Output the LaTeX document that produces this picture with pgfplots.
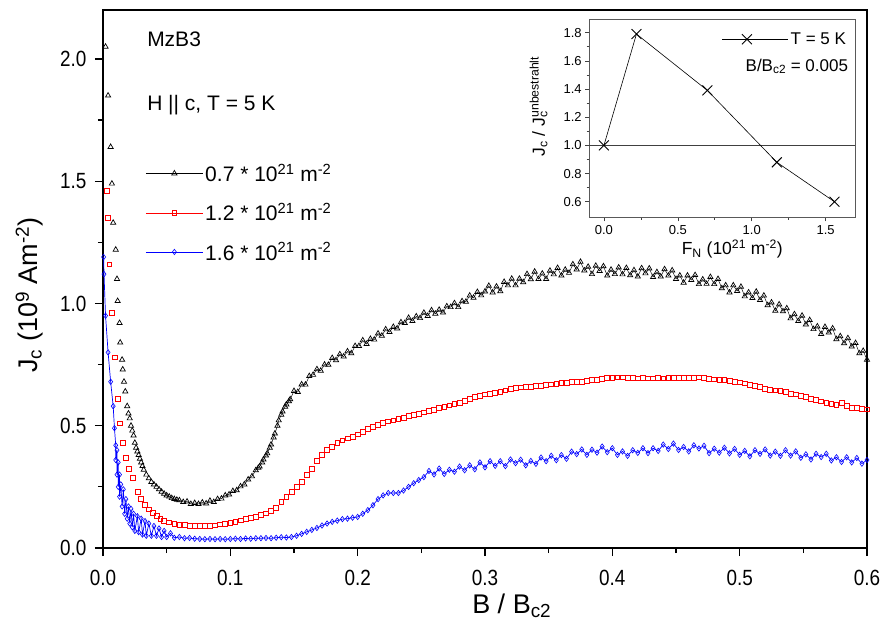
\documentclass[border=0pt]{standalone}
\usepackage{fontspec}
\setmainfont{Liberation Sans}
\newfontfamily\narrow[FakeStretch=0.86]{Liberation Sans}
\usepackage{pgfplots}
\usepackage{pgfplotstable}
\pgfplotsset{compat=1.18}
\definecolor{pblue}{RGB}{0,0,255}
\definecolor{pred}{RGB}{255,0,0}
\pgfplotstableread{
x y
0.002 2.05
0.004 1.85
0.006 1.64
0.007 1.49
0.008 1.33
0.010 1.22
0.011 1.10
0.0115 1.01
0.013 0.92
0.0135 0.84
0.015 0.77
0.0155 0.73
0.0165 0.68
0.0175 0.64
0.019 0.58
0.020 0.55
0.021 0.53
0.022 0.50
0.023 0.48
0.024 0.46
0.025 0.43
0.026 0.41
0.027 0.395
0.028 0.38
0.029 0.365
0.030 0.35
0.031 0.335
0.032 0.32
0.034 0.30
0.036 0.285
0.038 0.27
0.040 0.26
0.042 0.25
0.044 0.24
0.046 0.23
0.048 0.222
0.050 0.215
0.052 0.21
0.054 0.204
0.056 0.20
0.058 0.197
0.060 0.195
0.063 0.188
0.066 0.19
0.069 0.18
0.072 0.184
0.075 0.18
0.078 0.186
0.081 0.182
0.084 0.193
0.087 0.188
0.090 0.2
0.093 0.202
0.096 0.215
0.099 0.219
0.102 0.233
0.105 0.236
0.108 0.252
0.111 0.26
0.114 0.28
0.117 0.293
0.120 0.318
0.122 0.328
0.123 0.333
0.125 0.35
0.126 0.362
0.128 0.378
0.129 0.387
0.131 0.41
0.132 0.423
0.134 0.452
0.135 0.468
0.137 0.5
0.138 0.522
0.140 0.545
0.141 0.558
0.143 0.578
0.144 0.587
0.146 0.6
0.147 0.608
0.150 0.642
0.153 0.638
0.156 0.669
0.159 0.668
0.162 0.703
0.165 0.708
0.168 0.731
0.171 0.725
0.174 0.75
0.177 0.749
0.180 0.777
0.183 0.768
0.186 0.792
0.189 0.783
0.192 0.804
0.195 0.796
0.198 0.826
0.201 0.826
0.204 0.849
0.207 0.834
0.210 0.855
0.213 0.852
0.216 0.877
0.219 0.868
0.222 0.894
0.225 0.883
0.228 0.904
0.231 0.898
0.234 0.923
0.237 0.92
0.240 0.941
0.243 0.928
0.246 0.947
0.249 0.94
0.252 0.962
0.255 0.949
0.258 0.972
0.261 0.958
0.264 0.974
0.267 0.963
0.270 0.988
0.273 0.985
0.276 1.001
0.279 0.985
0.282 1.009
0.285 1.007
0.288 1.032
0.291 1.023
0.294 1.047
0.297 1.033
0.300 1.049
0.303 1.072
0.306 1.045
0.309 1.069
0.312 1.05
0.315 1.088
0.318 1.074
0.321 1.101
0.324 1.074
0.327 1.101
0.330 1.087
0.333 1.12
0.336 1.099
0.339 1.13
0.342 1.10
0.345 1.122
0.348 1.10
0.351 1.134
0.354 1.119
0.357 1.145
0.360 1.114
0.363 1.138
0.366 1.125
0.369 1.16
0.372 1.139
0.375 1.17
0.378 1.135
0.381 1.15
0.384 1.12
0.387 1.154
0.390 1.133
0.393 1.152
0.396 1.114
0.399 1.138
0.402 1.12
0.405 1.147
0.408 1.119
0.411 1.145
0.414 1.115
0.417 1.136
0.420 1.11
0.423 1.144
0.426 1.123
0.429 1.143
0.432 1.108
0.435 1.128
0.438 1.11
0.441 1.14
0.444 1.114
0.447 1.135
0.450 1.10
0.453 1.114
0.456 1.085
0.459 1.114
0.462 1.096
0.465 1.116
0.468 1.079
0.471 1.098
0.474 1.08
0.477 1.108
0.480 1.079
0.483 1.10
0.486 1.062
0.489 1.074
0.492 1.045
0.495 1.074
0.498 1.051
0.501 1.068
0.504 1.029
0.507 1.045
0.510 1.022
0.513 1.048
0.516 1.014
0.519 1.032
0.522 0.993
0.525 1.004
0.528 0.97
0.531 0.996
0.534 0.968
0.537 0.98
0.540 0.939
0.543 0.956
0.546 0.928
0.549 0.95
0.552 0.914
0.555 0.932
0.558 0.895
0.561 0.906
0.564 0.875
0.567 0.904
0.570 0.881
0.573 0.898
0.576 0.854
0.579 0.866
0.582 0.837
0.585 0.858
0.588 0.824
0.591 0.838
0.594 0.796
0.597 0.806
0.600 0.77
}\blackdata
\begin{document}
\begin{tikzpicture}
\begin{axis}[
 name=main,
 scale only axis, width=764pt, height=538pt,
 xmin=0, xmax=0.6, ymin=0, ymax=2.2,
 xtick={0,0.1,0.2,0.3,0.4,0.5,0.6},
 ytick={0,0.5,1.0,1.5,2.0},
 minor x tick num=1, minor y tick num=1,
 tick align=outside, xtick pos=bottom, ytick pos=left,
 major tick length=8pt, minor tick length=5pt,
 every tick/.style={black, line width=1.2pt},
 axis line style={line width=1.6pt},
 /pgf/number format/assume math mode=true,
 x tick label style={/pgf/number format/fixed, /pgf/number format/fixed zerofill, /pgf/number format/precision=1, yshift=-11pt},
 y tick label style={/pgf/number format/fixed, /pgf/number format/fixed zerofill, /pgf/number format/precision=1, xshift=-5pt},
 tick label style={font=\narrow\fontsize{22}{22}\selectfont},
 xlabel={B / B\textsubscript{c2}},
 ylabel={J\textsubscript{c} (10\textsuperscript{9} Am\textsuperscript{-2})},
 label style={font=\fontsize{27}{27}\selectfont},
 xlabel style={at={(axis description cs:0.535,-0.121)}, anchor=base},
 ylabel style={at={(axis description cs:-0.096,0.47)}, anchor=center},
 legend image code/.code={\draw[#1, mark=none] (0pt,0pt) -- (57pt,0pt); \draw[#1, only marks] plot coordinates {(28.5pt,0pt)};},
 legend style={at={(axis description cs:0.0515,0.722)}, anchor=north west, draw=none, fill=none, font=\fontsize{21}{21}\selectfont, row sep=16pt},
 legend cell align=left,
]
\coordinate (ll) at (rel axis cs:0,0);
\coordinate (ur) at (rel axis cs:1,1);
\coordinate (insetsw) at (axis cs:0.3818,1.3525);

\addplot[black, line width=0.45pt, restrict x to domain=0.05:0.6, forget plot] table[x=x, y=y] {\blackdata};
\addplot[black, only marks, mark=triangle, mark size=3pt, mark options={line width=0.7pt}] table[x=x, y=y] {\blackdata};
\addlegendentry{0.7 * 10\textsuperscript{21} m\textsuperscript{-2}}

\addplot[pred, only marks, mark=square, mark size=2.4pt, mark options={line width=0.7pt}] coordinates {
(0.003,1.46)(0.0035,1.35)(0.005,1.16)(0.007,0.96)(0.0094,0.78)(0.0118,0.61)(0.0134,0.51)(0.0157,0.43)(0.018,0.37)(0.0204,0.324)
(0.0236,0.287)(0.0275,0.228)(0.030,0.20)(0.033,0.177)(0.036,0.158)(0.039,0.143)(0.042,0.13)(0.045,0.12)(0.048,0.112)(0.052,0.105)
(0.056,0.10)(0.060,0.096)(0.064,0.094)(0.068,0.092)(0.072,0.091)(0.076,0.090)(0.080,0.090)(0.084,0.091)(0.088,0.093)(0.092,0.097)
(0.096,0.10)(0.100,0.104)(0.104,0.108)(0.108,0.113)(0.112,0.118)(0.116,0.123)(0.120,0.128)(0.124,0.134)(0.128,0.142)(0.132,0.152)
(0.136,0.165)(0.140,0.19)(0.144,0.21)(0.148,0.23)(0.152,0.25)(0.156,0.27)(0.160,0.30)(0.164,0.325)(0.168,0.355)(0.172,0.38)
(0.176,0.40)(0.180,0.415)(0.184,0.43)(0.188,0.44)(0.192,0.448)(0.196,0.455)(0.200,0.465)(0.204,0.475)(0.208,0.487)(0.212,0.497)
(0.216,0.505)(0.220,0.512)(0.224,0.518)(0.228,0.522)(0.232,0.527)(0.236,0.533)(0.240,0.54)(0.244,0.545)(0.248,0.55)(0.252,0.555)
(0.256,0.56)(0.260,0.565)(0.264,0.572)(0.268,0.577)(0.272,0.583)(0.276,0.59)(0.280,0.595)(0.284,0.603)(0.288,0.61)(0.292,0.617)
(0.296,0.622)(0.300,0.628)(0.304,0.632)(0.308,0.636)(0.312,0.64)(0.316,0.645)(0.320,0.65)(0.324,0.655)(0.328,0.657)(0.332,0.659)
(0.336,0.66)(0.340,0.662)(0.344,0.664)(0.348,0.667)(0.352,0.669)(0.356,0.672)(0.360,0.675)(0.364,0.676)(0.368,0.678)(0.372,0.679)
(0.376,0.68)(0.380,0.683)(0.384,0.686)(0.388,0.689)(0.392,0.692)(0.396,0.695)(0.400,0.697)(0.404,0.698)(0.408,0.698)(0.412,0.696)
(0.416,0.695)(0.420,0.694)(0.424,0.695)(0.428,0.694)(0.432,0.694)(0.436,0.695)(0.440,0.694)(0.444,0.695)(0.448,0.696)(0.452,0.695)
(0.456,0.696)(0.460,0.697)(0.464,0.697)(0.468,0.698)(0.472,0.695)(0.476,0.693)(0.480,0.69)(0.484,0.688)(0.488,0.686)(0.492,0.683)
(0.496,0.68)(0.500,0.677)(0.504,0.673)(0.508,0.668)(0.512,0.663)(0.516,0.658)(0.520,0.652)(0.524,0.648)(0.528,0.645)(0.532,0.641)
(0.536,0.637)(0.540,0.632)(0.544,0.628)(0.548,0.623)(0.552,0.618)(0.556,0.611)(0.560,0.605)(0.564,0.600)(0.568,0.593)(0.572,0.59)
(0.576,0.585)(0.580,0.592)(0.584,0.58)(0.588,0.572)(0.592,0.574)(0.596,0.568)(0.600,0.567)
};
\addlegendentry{1.2 * 10\textsuperscript{21} m\textsuperscript{-2}}

\addplot[pblue, line width=0.7pt, mark=diamond, mark size=2.7pt, mark options={line width=0.6pt}] coordinates {
(0.0005,1.19)(0.0008,1.12)(0.002,0.95)(0.004,0.80)(0.006,0.68)(0.008,0.58)(0.009,0.49)(0.010,0.42)(0.010,0.36)(0.011,0.40)
(0.011,0.30)(0.012,0.35)(0.012,0.25)(0.013,0.30)(0.013,0.21)(0.014,0.26)(0.015,0.17)(0.016,0.24)(0.017,0.14)(0.018,0.20)
(0.019,0.12)(0.020,0.17)(0.021,0.10)(0.022,0.16)(0.023,0.085)(0.024,0.14)(0.025,0.07)(0.027,0.13)(0.028,0.065)(0.030,0.12)
(0.031,0.055)(0.033,0.11)(0.034,0.05)(0.036,0.10)(0.038,0.05)(0.040,0.09)(0.042,0.05)(0.044,0.08)(0.046,0.045)(0.048,0.07)
(0.050,0.045)(0.053,0.06)(0.056,0.042)(0.060,0.045)(0.064,0.040)(0.068,0.041)(0.072,0.038)(0.076,0.037)(0.080,0.036)(0.084,0.037)
(0.088,0.036)(0.092,0.037)(0.096,0.036)(0.100,0.037)(0.104,0.038)(0.108,0.037)(0.112,0.039)(0.116,0.038)(0.120,0.040)(0.124,0.040)
(0.128,0.041)(0.132,0.040)(0.136,0.042)(0.140,0.044)(0.144,0.043)(0.148,0.045)(0.152,0.05)(0.156,0.058)(0.160,0.066)(0.164,0.074)
(0.168,0.082)(0.172,0.092)(0.176,0.10)(0.180,0.107)(0.184,0.112)(0.188,0.118)(0.192,0.12)(0.196,0.124)(0.200,0.127)(0.204,0.14)
(0.208,0.155)(0.212,0.175)(0.216,0.20)(0.220,0.215)(0.224,0.225)(0.228,0.225)(0.232,0.225)(0.236,0.235)(0.240,0.25)(0.244,0.265)
(0.248,0.278)(0.252,0.29)(0.256,0.315)(0.260,0.301)(0.264,0.325)(0.268,0.303)(0.272,0.32)(0.276,0.312)(0.280,0.333)(0.284,0.318)
(0.288,0.338)(0.292,0.322)(0.296,0.35)(0.300,0.33)(0.304,0.355)(0.308,0.336)(0.312,0.355)(0.316,0.335)(0.320,0.362)(0.324,0.347)
(0.328,0.361)(0.332,0.338)(0.336,0.356)(0.340,0.344)(0.344,0.37)(0.348,0.355)(0.352,0.377)(0.356,0.359)(0.360,0.38)(0.364,0.365)
(0.368,0.394)(0.372,0.384)(0.376,0.403)(0.380,0.381)(0.384,0.402)(0.388,0.39)(0.392,0.415)(0.396,0.392)(0.400,0.408)(0.404,0.381)
(0.408,0.395)(0.412,0.377)(0.416,0.40)(0.420,0.389)(0.424,0.408)(0.428,0.388)(0.432,0.408)(0.436,0.397)(0.440,0.423)(0.444,0.405)
(0.448,0.427)(0.452,0.401)(0.456,0.413)(0.460,0.395)(0.464,0.42)(0.468,0.407)(0.472,0.418)(0.476,0.388)(0.480,0.406)(0.484,0.39)
(0.488,0.41)(0.492,0.387)(0.496,0.405)(0.500,0.381)(0.504,0.397)(0.508,0.375)(0.512,0.40)(0.516,0.385)(0.520,0.403)(0.524,0.378)
(0.528,0.394)(0.532,0.377)(0.536,0.40)(0.540,0.378)(0.544,0.395)(0.548,0.369)(0.552,0.383)(0.556,0.362)(0.560,0.385)(0.564,0.372)
(0.568,0.385)(0.572,0.358)(0.576,0.371)(0.580,0.352)(0.584,0.371)(0.588,0.35)(0.592,0.368)(0.596,0.345)(0.600,0.36)
};
\addlegendentry{1.6 * 10\textsuperscript{21} m\textsuperscript{-2}}

\node[anchor=base west, inner sep=0pt, font=\fontsize{21}{21}\selectfont] at (axis cs:0.0346,2.049) {MzB3};
\node[anchor=base west, inner sep=0pt, font=\fontsize{21}{21}\selectfont] at (axis cs:0.0346,1.791) {H || c, T = 5 K};
\end{axis}

\begin{axis}[
 at={(insetsw)}, anchor=south west,
 scale only axis, width=266pt, height=198pt,
 xmin=-0.1, xmax=1.7, ymin=0.49, ymax=1.895,
 xtick={0,0.5,1.0,1.5},
 ytick={0.6,0.8,1.0,1.2,1.4,1.6,1.8},
 minor x tick num=1, minor y tick num=1,
 tick align=outside, xtick pos=bottom, ytick pos=left,
 major tick length=4pt, minor tick length=2.5pt,
 every tick/.style={black!75, line width=0.6pt},
 axis line style={black!65, line width=0.9pt},
 axis background/.style={fill=white},
 /pgf/number format/assume math mode=true,
 x tick label style={/pgf/number format/fixed, /pgf/number format/fixed zerofill, /pgf/number format/precision=1, yshift=-1pt},
 y tick label style={/pgf/number format/fixed, /pgf/number format/fixed zerofill, /pgf/number format/precision=1},
 tick label style={font=\fontsize{13}{13}\selectfont},
 xlabel={F\textsubscript{N} (10\textsuperscript{21} m\textsuperscript{-2})},
 ylabel={J\textsubscript{c} / J\rlap{\textsubscript{c}}\textsuperscript{unbestrahlt}},
 label style={font=\fontsize{17.5}{17.5}\selectfont},
 xlabel style={at={(axis description cs:0.538,-0.19)}, anchor=base},
 ylabel style={at={(axis description cs:-0.19,0.56)}, anchor=center},
 legend image code/.code={\draw[#1, mark=none] (0pt,0pt) -- (16pt,0pt); \draw[#1, mark=none] (33pt,0pt) -- (49pt,0pt); \draw[#1, only marks] plot coordinates {(24.5pt,0pt)}; \path (0pt,0pt) -- (66pt,0pt);},
 legend style={at={(axis description cs:0.985,0.899)}, anchor=east, draw=none, fill=none, font=\fontsize{17}{17}\selectfont},
]
\addplot[black!75, line width=0.7pt, forget plot] coordinates {(-0.1,1.0) (1.7,1.0)};
\addplot[black, line width=0.6pt, mark=x, mark size=7pt, mark options={line width=0.9pt}] coordinates {(0,1.0) (0.22,1.79) (0.70,1.39) (1.17,0.88) (1.56,0.60)};
\addlegendentry{T = 5 K}
\node[anchor=base east, inner sep=0pt, font=\fontsize{17}{17}\selectfont] at (rel axis cs:0.974,0.737) {B/B\textsubscript{c2} = 0.005};
\end{axis}
\pgfresetboundingbox
\path[use as bounding box] ([shift={(-103pt,-74pt)}]ll) rectangle ([shift={(14pt,10pt)}]ur);
\end{tikzpicture}
\end{document}
